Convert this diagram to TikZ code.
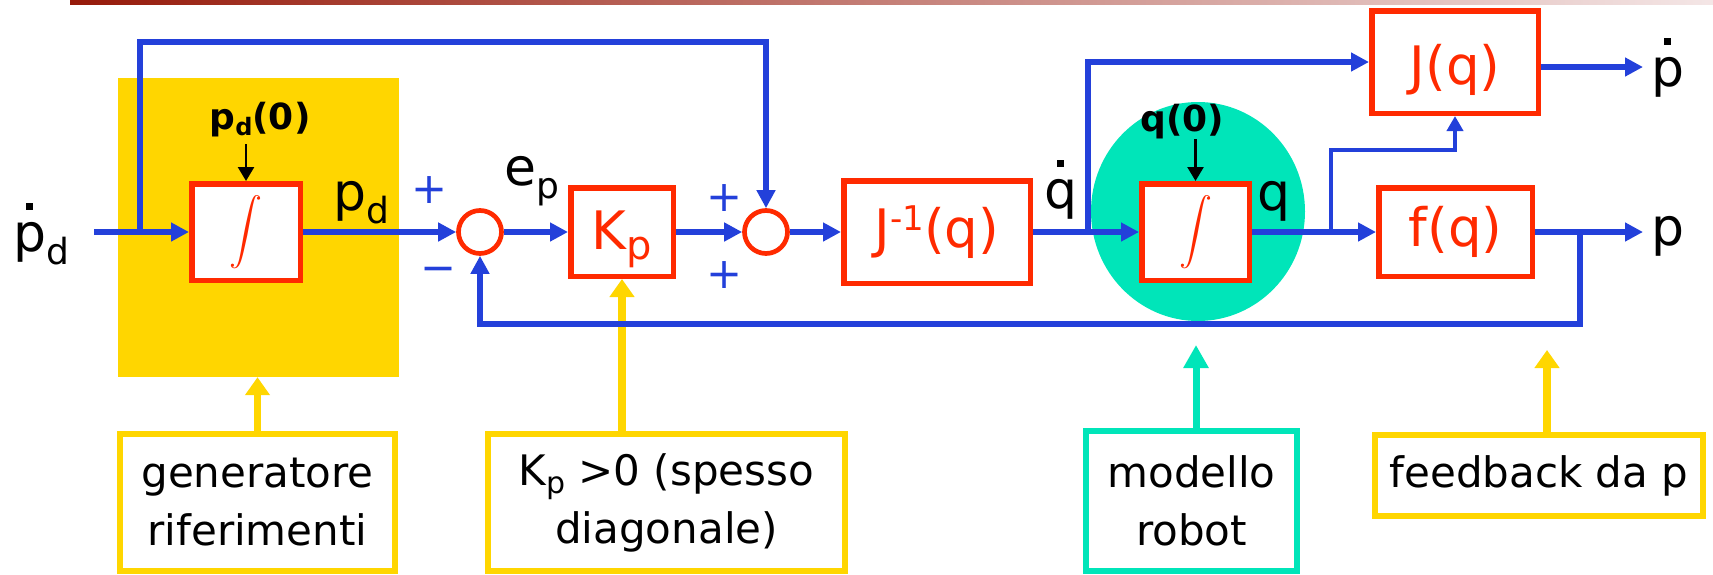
\documentclass[tikz,border=0pt]{standalone}
\usepackage{fontspec}
\usepackage{graphicx}
\setmainfont{DejaVu Sans}
\usetikzlibrary{arrows.meta,calc,shapes.geometric}

\definecolor{sigblue}{HTML}{2340DA}
\definecolor{boxred}{HTML}{FF2A00}
\definecolor{refyellow}{HTML}{FFD600}
\definecolor{robotteal}{HTML}{00E5B9}
\definecolor{barstart}{HTML}{961A0A}
\definecolor{barend}{HTML}{F4E6E6}

% square dot placed over a letter (time derivative)
\newcommand\dotacc[1]{\leavevmode\vbox{\offinterlineskip\halign{\hfil##\hfil\cr\rule{6.5pt}{6.5pt}\cr\noalign{\kern12pt}#1\cr}}}
% sub/superscripts for the various text sizes
\newcommand\lsub[1]{\raisebox{-13pt}{\fontsize{36}{36}\selectfont #1}}
\newcommand\bsub[1]{\raisebox{-6pt}{\fontsize{24}{24}\selectfont #1}}
\newcommand\ssub[1]{\raisebox{-8pt}{\fontsize{30}{30}\selectfont #1}}
\newcommand\ksub[1]{\raisebox{-10pt}{\fontsize{40}{40}\selectfont #1}}
\newcommand\rsup[1]{\raisebox{17pt}{\fontsize{34}{34}\selectfont #1}}
\newcommand\integ{\scalebox{3.3}{$\displaystyle\int$}}

\tikzset{
  block/.style={draw=boxred, line width=5.5pt, fill=white, rectangle, inner sep=0pt,
    text=boxred, font=\fontsize{53}{53}\selectfont},
  summer/.style={draw=boxred, line width=4.7pt, circle, minimum size=43pt, inner sep=0pt, fill=white},
  sig/.style={draw=sigblue, line width=5.3pt, -{Triangle[length=18pt,width=18pt]}},
  thinsig/.style={draw=sigblue, line width=4pt, -{Triangle[length=15pt,width=16pt]}},
  initarrow/.style={draw=black, line width=2.5pt, -{Triangle[length=14pt,width=16pt]}},
  note/.style={draw=refyellow, line width=6pt, rectangle, inner sep=0pt, align=center,
    font=\fontsize{42}{58}\selectfont},
  notearrow/.style={draw=refyellow, line width=7.5pt, -{Triangle[length=18pt,width=24pt]}},
  robotarrow/.style={draw=robotteal, line width=7pt, -{Triangle[length=23pt,width=24pt]}},
  sym/.style={inner sep=0pt, font=\fontsize{52}{52}\selectfont, anchor=base west},
  sign/.style={text=sigblue, inner sep=0pt, font=\fontsize{43}{43}\selectfont},
  initlabel/.style={inner sep=0pt, font=\bfseries\fontsize{36}{36}\selectfont, anchor=base},
}

\begin{document}
\begin{tikzpicture}[x=1pt,y=-1pt]
\useasboundingbox (0,0) rectangle (1713,574);

% title rule
\shade[left color=barstart,right color=barend] (70,0) rectangle (1713,4);

% highlighted regions
\node[fill=refyellow, minimum width=281pt, minimum height=299pt, inner sep=0pt] (refgen) at (258.5,227.5) {};
\node[ellipse, fill=robotteal, minimum width=214pt, minimum height=219pt, inner sep=0pt] (robotdisc) at (1198,211.5) {};

% blocks
\node[block, minimum width=108.5pt, minimum height=96.5pt] (int1) at (246,232) {\integ};
\node[summer] (sum1) at (480,232) {};
\node[block, minimum width=102.5pt, minimum height=88.5pt, text height=34pt, text depth=0pt] (Kp) at (622,232) {K\ksub{p}};
\node[summer] (sum2) at (766,232) {};
\node[block, minimum width=186.5pt, minimum height=102.5pt] (Jinv) at (937,232) {J\rsup{-1}(q)};
\node[block, minimum width=107.5pt, minimum height=96.5pt] (int2) at (1195.5,232) {\integ};
\node[block, minimum width=166.5pt, minimum height=102.5pt, text height=44pt, text depth=0pt] (J) at (1455,62) {J(q)};
\node[block, minimum width=153.5pt, minimum height=88.5pt] (f) at (1455.5,232) {f(q)};

% explanatory notes
\node[note, minimum width=275pt, minimum height=137pt] (genbox) at (257.5,502.5) {generatore\\riferimenti};
\node[note, minimum width=357pt, minimum height=137pt] (kpbox) at (666.5,502.5) {K\ssub{p} >0 (spesso\\diagonale)};
\node[note, draw=robotteal, minimum width=211pt, minimum height=140pt] (modbox) at (1191.5,501) {modello\\robot};
\node[note, minimum width=328pt, minimum height=81pt] (fbbox) at (1539,475.5) {feedback da p};

\draw[notearrow] (genbox.north) -- (genbox.north |- refgen.south);
\draw[notearrow] (Kp.south |- kpbox.north) -- (Kp.south);
\coordinate (modtip) at (1196,345);
\draw[robotarrow] (modtip |- modbox.north) -- (modtip);
\coordinate (fbtip) at (1547,350);
\draw[notearrow] (fbtip |- fbbox.north) -- (fbtip);

% signal flow
\coordinate (pdin) at (94,232);
\coordinate (ffsplit) at (140,232);
\coordinate (fftop) at (140,42);
\draw[sig] (pdin) -- (int1.west);
\draw[sig] (ffsplit) -- (fftop) -| (sum2.north);
\draw[sig] (int1.east) -- (sum1.west);
\draw[sig] (sum1.east) -- (Kp.west);
\draw[sig] (Kp.east) -- (sum2.west);
\draw[sig] (sum2.east) -- (Jinv.west);
\draw[sig] (Jinv.east) -- (int2.west);
\coordinate (qdsplit) at (1088,232);
\draw[sig] (qdsplit) |- (J.west);
\draw[sig] (int2.east) -- (f.west);
\coordinate (qsplit) at (1331,232);
\coordinate (qbend) at (1331,150);
\draw[thinsig] (qsplit) -- (qbend) -| (J.south);
\coordinate (pdotend) at (1643,67);
\draw[sig] (J.east |- pdotend) -- (pdotend);
\coordinate (pend) at (1643,232);
\draw[sig] (f.east) -- (pend);
\coordinate (fbsplit) at (1580,232);
\coordinate (fbcorner) at (1580,324);
\draw[sig] (fbsplit) -- (fbcorner) -| (sum1.south);

% initial conditions
\node[initlabel] (pd0) at (260,129) {p\bsub{d}(0)};
\node[initlabel] (q0) at (1182.5,131) {q(0)};
\draw[initarrow] ($(int1.north)+(0,-37)$) -- (int1.north);
\draw[initarrow] ($(int2.north)+(0,-42)$) -- (int2.north);

% signal names
\node[sym] (pdotd) at (13,251) {\dotacc{p}\lsub{d}};
\node[sym] (pdlab) at (333,210) {p\lsub{d}};
\node[sym] (eplab) at (504,185) {e\lsub{p}};
\node[sym] (qdotlab) at (1044,208) {\dotacc{q}};
\node[sym] (qlab) at (1257,210) {q};
\node[sym] (pdotlab) at (1651,86) {\dotacc{p}};
\node[sym] (plab) at (1651,245) {p};

% summing signs
\node[sign] (s1p) at (430,190) {+};
\node[sign] (s1m) at (439,275) {\symbol{"2212}};
\node[sign] (s2p) at (725,198) {+};
\node[sign] (s2q) at (725,275) {+};
\end{tikzpicture}
\end{document}
